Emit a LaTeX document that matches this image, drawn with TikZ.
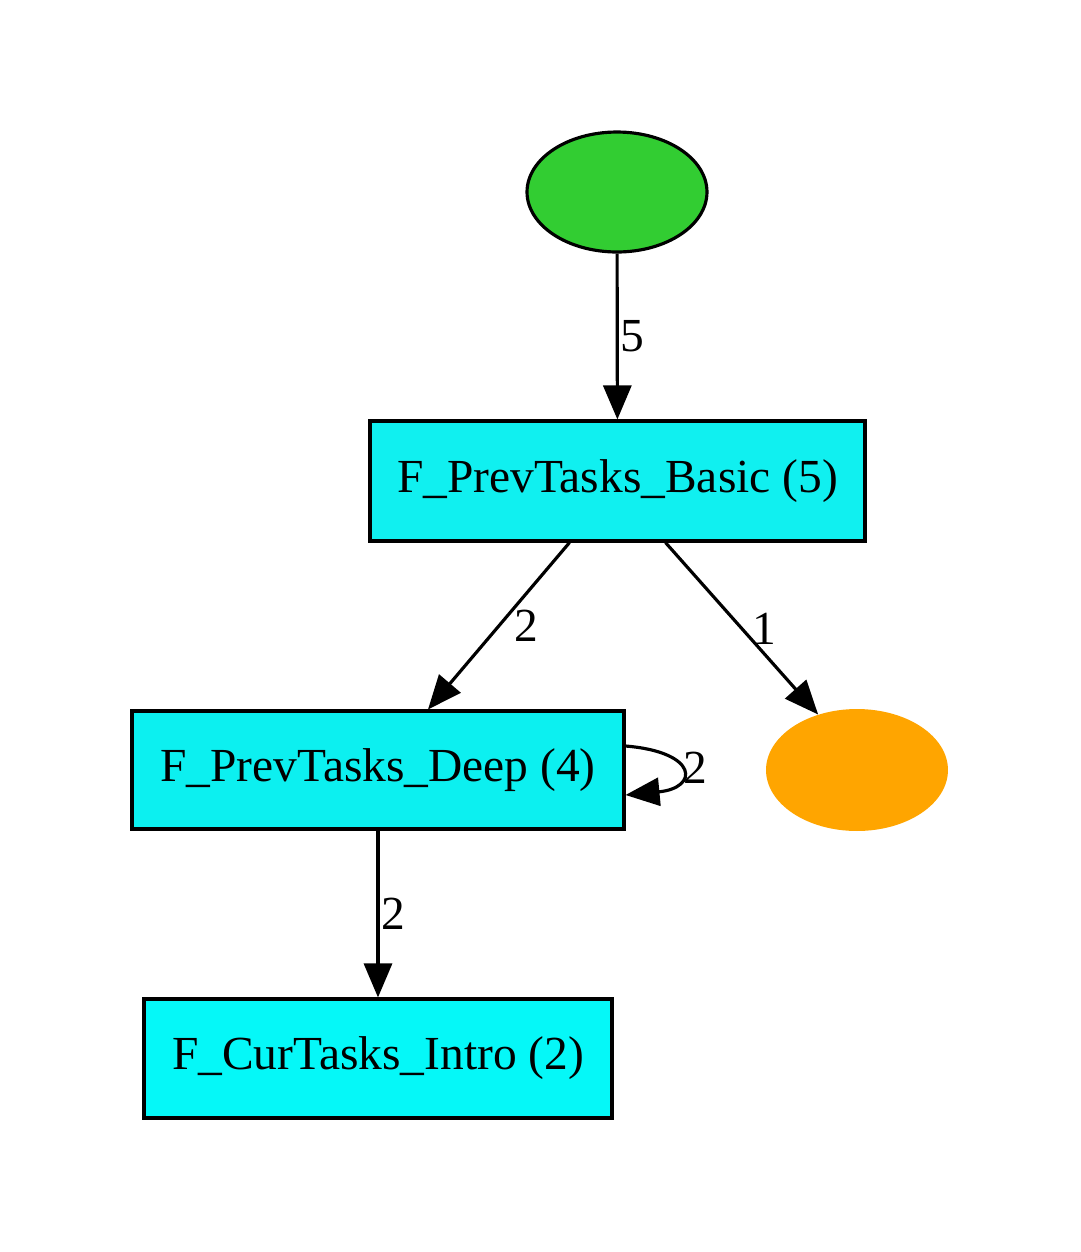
\documentclass[tikz,border=0pt]{standalone}
\usepackage{fontspec}
\setmainfont{Liberation Serif}
\usetikzlibrary{calc,arrows.meta,shapes.geometric}

\definecolor{limegreen}{RGB}{50,205,50}
\definecolor{tasksorange}{RGB}{255,165,0}
\definecolor{basiccyan}{RGB}{16,240,240}
\definecolor{deepcyan}{RGB}{12,240,240}
\definecolor{introcyan}{RGB}{5,248,248}

\tikzset{
  task/.style={draw, rectangle, line width=1.8pt, minimum height=2.4cm, inner sep=0pt},
  state/.style={ellipse, minimum width=3.6cm, minimum height=2.4cm, inner sep=0pt},
  edge/.style={line width=1.8pt, -{Triangle[length=0.68cm, width=0.56cm]}},
  weight/.style={inner sep=1pt, font=\fontsize{27}{31}\selectfont}
}

\begin{document}
\begin{tikzpicture}[x=0.02cm, y=-0.02cm, font=\fontsize{27}{31}\selectfont]
\useasboundingbox (0,0) rectangle (1080,1252);

\node[state, draw, line width=1.8pt, fill=limegreen] (start) at (617,192) {};
\node[task, fill=basiccyan, minimum width=9.9cm] (basic) at (617.5,481) {F\_PrevTasks\_Basic (5)};
\node[task, fill=deepcyan, minimum width=9.84cm, minimum height=2.36cm] (deep) at (378,770) {F\_PrevTasks\_Deep (4)};
\node[state, fill=tasksorange, minimum width=3.64cm, minimum height=2.44cm] (finish) at (857,770) {};
\node[task, fill=introcyan, minimum width=9.36cm, minimum height=2.38cm] (intro) at (378,1058.5) {F\_CurTasks\_Intro (2)};

\draw[edge] (start) -- node[weight, right] {5} (basic);
\draw[edge] ($(basic.south)+(-48,0)$) -- node[weight, right, xshift=0.25cm] {2} ($(deep.north)+(50,0)$);
\draw[edge] ($(basic.south)+(48,0)$) -- node[weight, right, xshift=0.15cm] {1} (finish.125);
\draw[edge] ($(deep.east)+(0,-24)$) .. controls (699,752) and (699,788) .. ($(deep.east)+(0,25)$);
\node[weight] (loopweight) at (695,768) {2};
\draw[edge] (deep) -- node[weight, right] {2} (intro);
\end{tikzpicture}
\end{document}
